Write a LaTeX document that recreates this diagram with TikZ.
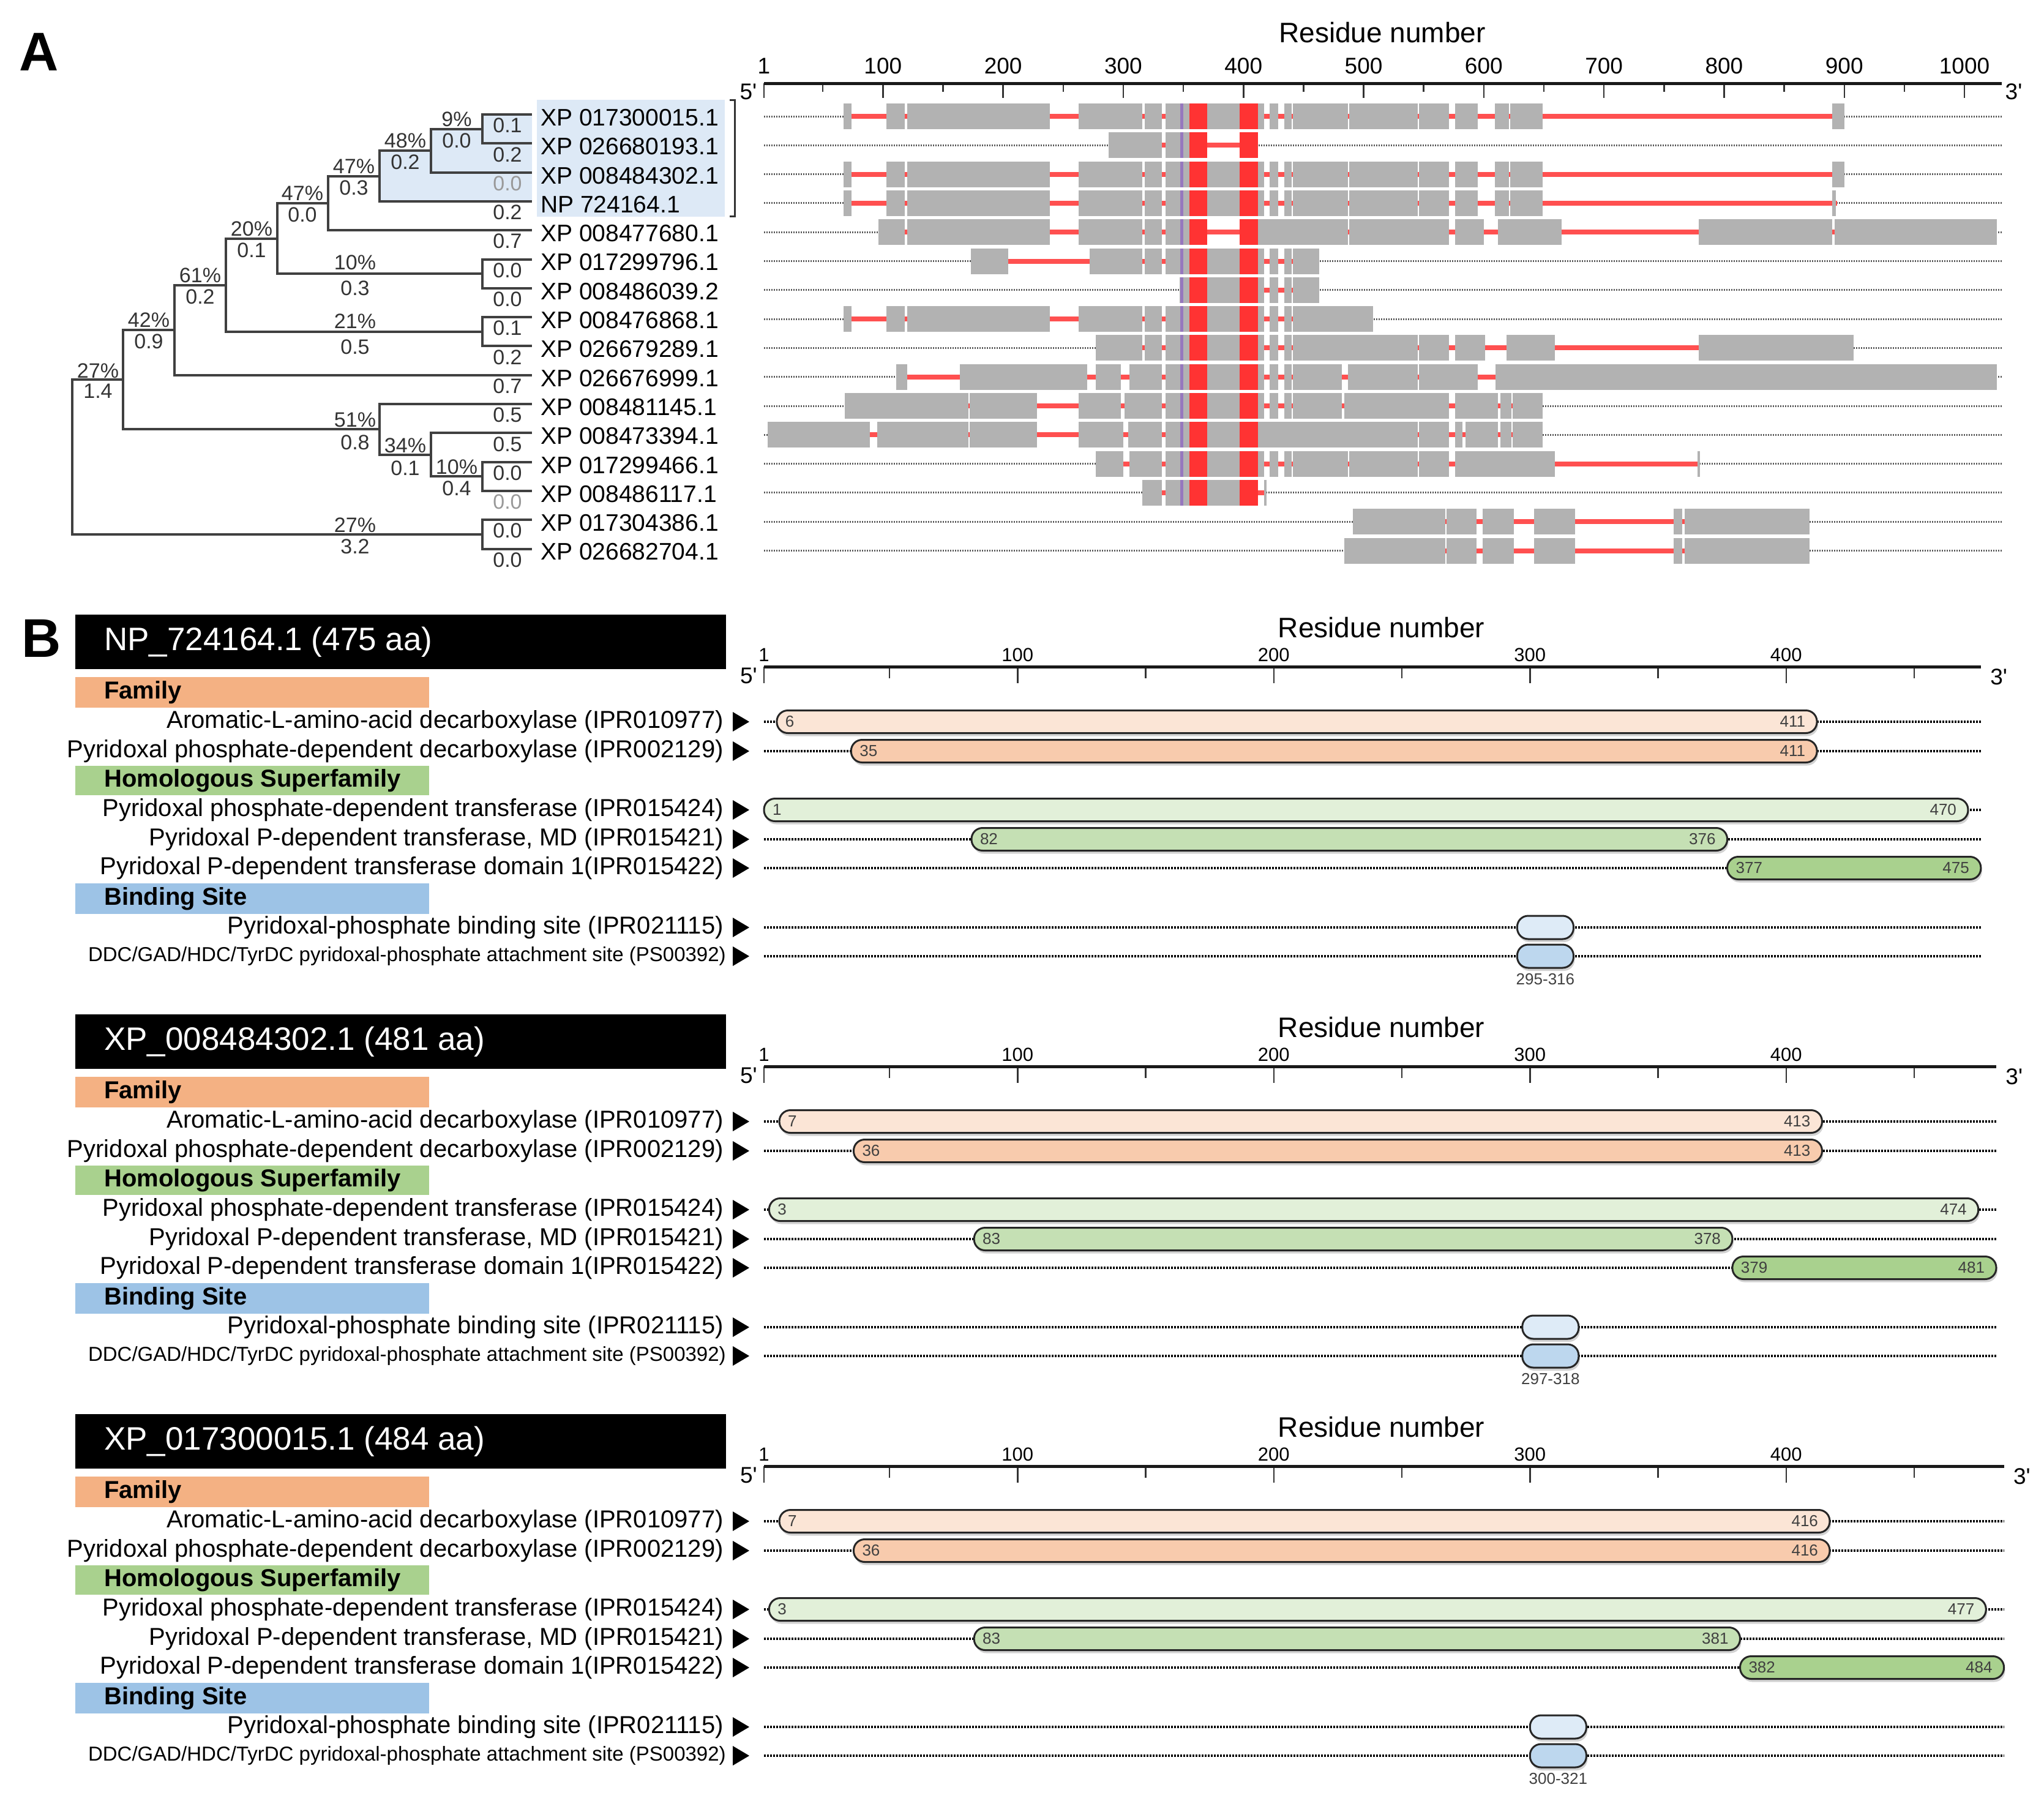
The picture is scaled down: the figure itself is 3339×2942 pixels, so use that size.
\documentclass[tikz,border=0pt]{standalone}
\usepackage{fontspec}
\setmainfont{Liberation Sans}
\usetikzlibrary{positioning,shadows}

\definecolor{alngray}{RGB}{178,178,178}
\definecolor{alnred}{RGB}{255,51,51}
\definecolor{alnlinkred}{RGB}{255,80,80}
\definecolor{alnpurple}{RGB}{150,120,190}
\definecolor{cladeblue}{RGB}{221,233,246}
\definecolor{famhead}{RGB}{244,177,131}
\definecolor{hshead}{RGB}{169,209,142}
\definecolor{bshead}{RGB}{157,195,230}
\definecolor{famA}{RGB}{251,229,214}
\definecolor{famB}{RGB}{248,203,173}
\definecolor{hsA}{RGB}{226,240,217}
\definecolor{hsB}{RGB}{197,224,180}
\definecolor{hsC}{RGB}{169,209,142}
\definecolor{bsA}{RGB}{222,235,247}
\definecolor{bsB}{RGB}{189,215,238}

\tikzset{
  panellab/.style={font=\fontsize{89}{89}\selectfont\bfseries, inner sep=0},
  treeline/.style={line width=4pt, black!75},
  leaflab/.style={font=\fontsize{39}{39}\selectfont, inner sep=0},
  brlab/.style={font=\fontsize{34}{34}\selectfont, inner sep=0, black!80},
  restitle/.style={font=\fontsize{46}{46}\selectfont, inner sep=0},
  alnticklab/.style={font=\fontsize{37}{37}\selectfont, inner sep=0},
  protticklab/.style={font=\fontsize{31}{31}\selectfont, inner sep=0},
  endlab/.style={font=\fontsize{37}{37}\selectfont, inner sep=0},
  axisline/.style={line width=5pt, black!90},
  axistick/.style={line width=2.5pt, black!80},
  alndots/.style={line width=3pt, black!65, dash pattern=on 2pt off 2pt},
  alnlink/.style={line width=8pt, alnlinkred},
  alnblock/.style={fill=alngray},
  headtxt/.style={font=\fontsize{53}{53}\selectfont, text=white, anchor=west, inner sep=0},
  cathead/.style={font=\fontsize{40}{40}\selectfont\bfseries, anchor=west, inner sep=0},
  itemlab/.style={font=\fontsize{40}{40}\selectfont, anchor=east, inner sep=0},
  itemsmall/.style={font=\fontsize{33}{33}\selectfont, anchor=east, inner sep=0},
  dotline/.style={line width=4.5pt, black, dash pattern=on 2.5pt off 2.5pt},
  domainbar/.style={draw=black!85, line width=3pt, rounded corners=18pt,
    drop shadow={shadow xshift=2pt, shadow yshift=-5pt, fill=black!35}},
  barnum/.style={font=\fontsize{26}{26}\selectfont, inner sep=0, black!75},
  rangelab/.style={font=\fontsize{26}{26}\selectfont, inner sep=0, black!75}
}

\begin{document}
\begin{tikzpicture}[x=1pt,y=-1pt]
\useasboundingbox (0,0) rectangle (3339,2942);

%% A: tree
\node[panellab] (labA) at (64,85) {A};

\coordinate (l1) at (869,187);
\coordinate (l2) at (869,234.3);
\coordinate (l3) at (869,281.6);
\coordinate (l4) at (869,328.9);
\coordinate (l5) at (869,376.2);
\coordinate (l6) at (869,423.5);
\coordinate (l7) at (869,470.8);
\coordinate (l8) at (869,518.1);
\coordinate (l9) at (869,565.4);
\coordinate (l10) at (869,612.7);
\coordinate (l11) at (869,660);
\coordinate (l12) at (869,707.3);
\coordinate (l13) at (869,754.6);
\coordinate (l14) at (869,801.9);
\coordinate (l15) at (869,849.2);
\coordinate (l16) at (869,896.5);

\coordinate (t12) at (788,210.65);
\coordinate (t123) at (704,246.1);
\coordinate (t1234) at (620,287.5);
\coordinate (t1to5) at (536,331.9);
\coordinate (t67) at (788,447.15);
\coordinate (t1to7) at (453,389.5);
\coordinate (t89) at (788,541.75);
\coordinate (t1to9) at (369,465.6);
\coordinate (t1to10) at (285,539.2);
\coordinate (t1314) at (788,778.25);
\coordinate (t12to14) at (704,742.8);
\coordinate (t11to14) at (620,701.4);
\coordinate (t1to14) at (201,620.3);
\coordinate (t1516) at (788,872.85);
\coordinate (troot) at (118,746.6);

% shaded clade
\fill[cladeblue] (t1234 |- t123) -- (t123) -- (t123 |- t12) -- (t12) -- (t12 |- l1) -- (l1) -- (l4) -- (t1234 |- l4) -- cycle;
\fill[cladeblue] (877,163) rectangle (1184,354);
\draw[line width=3pt, black!80] (1192,163) -- (1200,163) -- (1200,353) -- (1192,353);

\draw[treeline] (l1) -| (t12) |- (l2);
\draw[treeline] (t12) -| (t123) |- (l3);
\draw[treeline] (t123) -| (t1234) |- (l4);
\draw[treeline] (t1234) -| (t1to5) |- (l5);
\draw[treeline] (l6) -| (t67) |- (l7);
\draw[treeline] (t1to5) -| (t1to7) |- (t67);
\draw[treeline] (l8) -| (t89) |- (l9);
\draw[treeline] (t1to7) -| (t1to9) |- (t89);
\draw[treeline] (t1to9) -| (t1to10) |- (l10);
\draw[treeline] (l13) -| (t1314) |- (l14);
\draw[treeline] (l12) -| (t12to14) |- (t1314);
\draw[treeline] (l11) -| (t11to14) |- (t12to14);
\draw[treeline] (t1to10) -| (t1to14) |- (t11to14);
\draw[treeline] (l15) -| (t1516) |- (l16);
\draw[treeline] (t1to14) -| (troot) |- (t1516);

% leaf names
\node[leaflab, right=14pt of l1, yshift=-5pt] (s1) {XP 017300015.1};
\node[leaflab, right=14pt of l2, yshift=-5pt] (s2) {XP 026680193.1};
\node[leaflab, right=14pt of l3, yshift=-5pt] (s3) {XP 008484302.1};
\node[leaflab, right=14pt of l4, yshift=-5pt] (s4) {NP 724164.1};
\node[leaflab, right=14pt of l5, yshift=-5pt] (s5) {XP 008477680.1};
\node[leaflab, right=14pt of l6, yshift=-5pt] (s6) {XP 017299796.1};
\node[leaflab, right=14pt of l7, yshift=-5pt] (s7) {XP 008486039.2};
\node[leaflab, right=14pt of l8, yshift=-5pt] (s8) {XP 008476868.1};
\node[leaflab, right=14pt of l9, yshift=-5pt] (s9) {XP 026679289.1};
\node[leaflab, right=14pt of l10, yshift=-5pt] (s10) {XP 026676999.1};
\node[leaflab, right=14pt of l11, yshift=-5pt] (s11) {XP 008481145.1};
\node[leaflab, right=14pt of l12, yshift=-5pt] (s12) {XP 008473394.1};
\node[leaflab, right=14pt of l13, yshift=-5pt] (s13) {XP 017299466.1};
\node[leaflab, right=14pt of l14, yshift=-5pt] (s14) {XP 008486117.1};
\node[leaflab, right=14pt of l15, yshift=-5pt] (s15) {XP 017304386.1};
\node[leaflab, right=14pt of l16, yshift=-5pt] (s16) {XP 026682704.1};

% leaf branch lengths
\node[brlab] (b1) at ([xshift=-40pt,yshift=-18pt]l1) {0.1};
\node[brlab] (b2) at ([xshift=-40pt,yshift=-18pt]l2) {0.2};
\node[brlab, black!40] (b3) at ([xshift=-40pt,yshift=-18pt]l3) {0.0};
\node[brlab] (b4) at ([xshift=-40pt,yshift=-18pt]l4) {0.2};
\node[brlab] (b5) at ([xshift=-40pt,yshift=-18pt]l5) {0.7};
\node[brlab] (b6) at ([xshift=-40pt,yshift=-18pt]l6) {0.0};
\node[brlab] (b7) at ([xshift=-40pt,yshift=-18pt]l7) {0.0};
\node[brlab] (b8) at ([xshift=-40pt,yshift=-18pt]l8) {0.1};
\node[brlab] (b9) at ([xshift=-40pt,yshift=-18pt]l9) {0.2};
\node[brlab] (b10) at ([xshift=-40pt,yshift=-18pt]l10) {0.7};
\node[brlab] (b11) at ([xshift=-40pt,yshift=-18pt]l11) {0.5};
\node[brlab] (b12) at ([xshift=-40pt,yshift=-18pt]l12) {0.5};
\node[brlab] (b13) at ([xshift=-40pt,yshift=-18pt]l13) {0.0};
\node[brlab, black!40] (b14) at ([xshift=-40pt,yshift=-18pt]l14) {0.0};
\node[brlab] (b15) at ([xshift=-40pt,yshift=-18pt]l15) {0.0};
\node[brlab] (b16) at ([xshift=-40pt,yshift=-18pt]l16) {0.0};

% support and internal lengths
\node[brlab] (p12) at ([xshift=-42pt,yshift=16pt]t12) {9\%};
\node[brlab] (q12) at ([xshift=-42pt,yshift=-19pt]t12) {0.0};
\node[brlab] (p123) at ([xshift=-42pt,yshift=16pt]t123) {48\%};
\node[brlab] (q123) at ([xshift=-42pt,yshift=-19pt]t123) {0.2};
\node[brlab] (p1234) at ([xshift=-42pt,yshift=16pt]t1234) {47\%};
\node[brlab] (q1234) at ([xshift=-42pt,yshift=-19pt]t1234) {0.3};
\node[brlab] (p1to5) at ([xshift=-42pt,yshift=16pt]t1to5) {47\%};
\node[brlab] (q1to5) at ([xshift=-42pt,yshift=-19pt]t1to5) {0.0};
\node[brlab] (p1to7) at ([xshift=-42pt,yshift=16pt]t1to7) {20\%};
\node[brlab] (q1to7) at ([xshift=-42pt,yshift=-19pt]t1to7) {0.1};
\node[brlab] (p67) at ([xshift=-208pt,yshift=18pt]t67) {10\%};
\node[brlab] (q67) at ([xshift=-208pt,yshift=-24pt]t67) {0.3};
\node[brlab] (p1to9) at ([xshift=-42pt,yshift=16pt]t1to9) {61\%};
\node[brlab] (q1to9) at ([xshift=-42pt,yshift=-19pt]t1to9) {0.2};
\node[brlab] (p89) at ([xshift=-208pt,yshift=17pt]t89) {21\%};
\node[brlab] (q89) at ([xshift=-208pt,yshift=-25pt]t89) {0.5};
\node[brlab] (p1to10) at ([xshift=-42pt,yshift=16pt]t1to10) {42\%};
\node[brlab] (q1to10) at ([xshift=-42pt,yshift=-19pt]t1to10) {0.9};
\node[brlab] (p1to14) at ([xshift=-41pt,yshift=15pt]t1to14) {27\%};
\node[brlab] (q1to14) at ([xshift=-41pt,yshift=-18pt]t1to14) {1.4};
\node[brlab] (p11to14) at ([xshift=-40pt,yshift=16pt]t11to14) {51\%};
\node[brlab] (q11to14) at ([xshift=-40pt,yshift=-21pt]t11to14) {0.8};
\node[brlab] (p12to14) at ([xshift=-42pt,yshift=15pt]t12to14) {34\%};
\node[brlab] (q12to14) at ([xshift=-42pt,yshift=-22pt]t12to14) {0.1};
\node[brlab] (p1314) at ([xshift=-42pt,yshift=15pt]t1314) {10\%};
\node[brlab] (q1314) at ([xshift=-42pt,yshift=-20pt]t1314) {0.4};
\node[brlab] (p1516) at ([xshift=-208pt,yshift=15pt]t1516) {27\%};
\node[brlab] (q1516) at ([xshift=-208pt,yshift=-20pt]t1516) {3.2};

%% A: alignment, x in residues
\begin{scope}[shift={(1246.037,0)}, x=1.963pt]
  \node[restitle] (resA) at (515.5,53) {Residue number};
  \foreach \t in {1,100,200,300,400,500,600,700,800,900,1000} {
    \draw[axistick] (\t,136) -- (\t,160);
    \node[alnticklab] at (\t,108) {\t};
  }
  \foreach \t in {50,150,...,950}
    \draw[axistick] (\t,136) -- (\t,150);
  \draw[axisline] (1,136) -- (1031,136);
  \node[endlab] (fiveA) at (-12,150) {5\textquotesingle};
  \node[endlab] (threeA) at (1041,150) {3\textquotesingle};

  \foreach \y/\lo/\hi/\band/\segs in {
    190/67/900/1/{67/74,103/118,120/239,263/316,318/332,335/355,370/397,412/417,422/429,434/440,441/487,488/545,546/571,576/595,609/621,622/649,890/900},
    237.3/288/412/1/{288/332,335/355},
    284.6/67/900/1/{67/74,103/118,120/239,263/316,318/332,335/355,370/397,412/417,422/429,434/440,441/487,488/545,546/571,576/595,609/621,622/649,890/900},
    331.9/67/894/1/{67/74,103/118,120/239,263/316,318/332,335/355,370/397,412/417,422/429,434/440,441/487,488/545,546/571,576/595,609/621,622/649,890/893},
    379.2/96/1027/1/{96/118,120/239,263/316,318/332,335/355,412/487,488/571,576/600,612/665,779/890,892/1027},
    426.5/173/463/1/{173/204,272/316,318/332,335/355,370/397,412/417,422/429,434/440,441/463},
    473.8/347/463/1/{347/355,370/397,412/417,422/429,434/440,441/463},
    521.1/67/508/1/{67/74,103/118,120/239,263/316,318/332,335/355,370/397,412/417,422/429,434/440,441/508},
    568.4/277/908/1/{277/316,318/332,335/355,370/397,412/417,422/429,434/440,441/545,546/571,576/601,619/659,779/908},
    615.7/111/1027/1/{111/120,164/270,277/298,305/332,335/355,370/397,412/417,422/429,434/440,441/482,487/545,546/595,610/1027},
    663/68/649/1/{68/171,172/228,263/298,301/332,335/355,370/397,412/417,422/429,434/440,441/482,484/571,576/612,614/623,624/649},
    710.3/4/649/1/{4/89,95/171,172/228,263/300,304/332,335/355,370/545,546/571,576/582,585/612,614/623,624/649},
    757.6/277/779/1/{277/300,305/332,335/355,370/397,412/417,422/429,434/440,441/487,488/545,546/571,576/659,778/780},
    804.9/316/418/1/{316/332,335/355,370/397,417/419},
    852.2/491/871/0/{491/568,569/594,599/625,642/676,758/765,767/871},
    899.5/484/871/0/{484/568,569/594,599/625,642/676,758/765,767/871}} {
    \draw[alndots] (1,\y) -- (1031,\y);
    \draw[alnlink] (\lo,\y) -- (\hi,\y);
    \foreach \s/\e in \segs
      \fill[alnblock] (\s,\y-21) rectangle (\e,\y+21);
    \ifnum\band=1
      \fill[alnpurple] (347.5,\y-21) rectangle (350,\y+21);
      \fill[alnred] (355,\y-21) rectangle (370,\y+21);
      \fill[alnred] (397,\y-21) rectangle (412,\y+21);
    \fi
  }
\end{scope}

%% B: domain maps
\node[panellab] (labB) at (68,1043) {B};

\foreach \dy/\len/\acc in {0/475/{NP\_724164.1 (475 aa)}, 653/481/{XP\_008484302.1 (481 aa)}, 1306/484/{XP\_017300015.1 (484 aa)}} {
  \fill[black] (123,1004+\dy) rectangle (1186,1093+\dy);
  \node[headtxt] (head\dy) at (170,1049+\dy) {\acc};

  \fill[famhead] (123,1106+\dy) rectangle (701,1156+\dy);
  \node[cathead] (fam\dy) at (170,1131+\dy) {Family};
  \fill[hshead] (123,1251+\dy) rectangle (701,1299+\dy);
  \node[cathead] (hsf\dy) at (170,1275+\dy) {Homologous Superfamily};
  \fill[bshead] (123,1443+\dy) rectangle (701,1493+\dy);
  \node[cathead] (bsite\dy) at (170,1468+\dy) {Binding Site};

  \node[itemlab] (arom\dy) at (1182,1179+\dy) {Aromatic-L-amino-acid decarboxylase (IPR010977)};
  \node[itemlab] (pdc\dy) at (1182,1227+\dy) {Pyridoxal phosphate-dependent decarboxylase (IPR002129)};
  \node[itemlab] (ptr\dy) at (1182,1323+\dy) {Pyridoxal phosphate-dependent transferase (IPR015424)};
  \node[itemlab] (pmd\dy) at (1182,1371+\dy) {Pyridoxal P-dependent transferase, MD (IPR015421)};
  \node[itemlab] (pdom\dy) at (1182,1418+\dy) {Pyridoxal P-dependent transferase domain 1(IPR015422)};
  \node[itemlab] (pbs\dy) at (1182,1515+\dy) {Pyridoxal-phosphate binding site (IPR021115)};
  \node[itemsmall] (ddc\dy) at (1186,1562+\dy) {DDC/GAD/HDC/TyrDC pyridoxal-phosphate attachment site (PS00392)};
  \foreach \ry in {1179,1227,1323,1371,1418,1515,1562}
    \fill[black] (1197,\ry+\dy-16) -- (1224,\ry+\dy) -- (1197,\ry+\dy+16) -- cycle;

  \begin{scope}[shift={(1243.815,\dy)}, x=4.185pt]
    \node[restitle] (res\dy) at (242,1025) {Residue number};
    \foreach \t in {1,100,200,300,400} {
      \draw[axistick] (\t,1089) -- (\t,1116);
      \node[protticklab] at (\t,1070) {\t};
    }
    \foreach \t in {50,150,...,450}
      \draw[axistick] (\t,1089) -- (\t,1108);
    \draw[axisline] (1,1089) -- (\len+1,1089);
    \node[endlab] (five\dy) at (-5,1104) {5\textquotesingle};
    \node[endlab] (three\dy) at (\len+8,1106) {3\textquotesingle};
    \foreach \ry in {1179,1227,1323,1371,1418,1515,1562}
      \draw[dotline] (1,\ry) -- (\len+1,\ry);
  \end{scope}
}

\begin{scope}[shift={(1243.815,0)}, x=4.185pt]
  \foreach \dy/\ry/\s/\e/\c in {
    0/1179/6/411/famA, 0/1227/35/411/famB, 0/1323/1/470/hsA, 0/1371/82/376/hsB, 0/1418/377/475/hsC,
    653/1179/7/413/famA, 653/1227/36/413/famB, 653/1323/3/474/hsA, 653/1371/83/378/hsB, 653/1418/379/481/hsC,
    1306/1179/7/416/famA, 1306/1227/36/416/famB, 1306/1323/3/477/hsA, 1306/1371/83/381/hsB, 1306/1418/382/484/hsC} {
    \draw[domainbar, fill=\c] (\s,\ry+\dy-18.5) rectangle (\e+1,\ry+\dy+18.5);
    \node[barnum, anchor=west] (ds-\dy-\ry) at (\s+3.3,\ry+\dy) {\s};
    \node[barnum, anchor=east] (de-\dy-\ry) at (\e-3.5,\ry+\dy) {\e};
  }
  \foreach \dy/\s/\e in {0/295/316, 653/297/318, 1306/300/321} {
    \draw[domainbar, fill=bsA] (\s,1515+\dy-19) rectangle (\e+1,1515+\dy+19);
    \draw[domainbar, fill=bsB] (\s,1562+\dy-19) rectangle (\e+1,1562+\dy+19);
    \node[rangelab] (rng\dy) at (\s/2+\e/2+0.5,1600+\dy) {\s-\e};
  }
\end{scope}

\end{tikzpicture}
\end{document}
